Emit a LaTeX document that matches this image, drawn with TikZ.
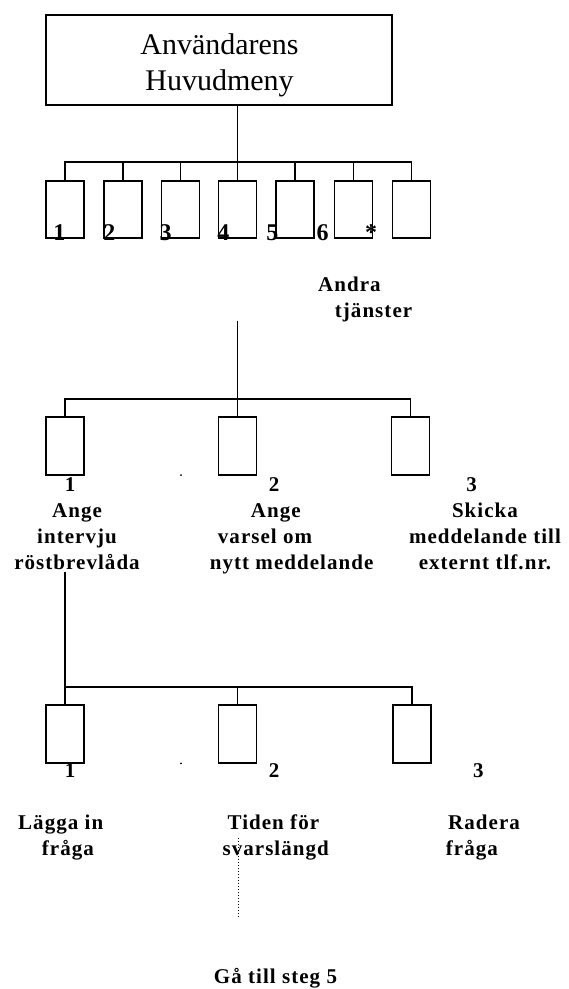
\documentclass[tikz,border=0pt]{standalone}
\usepackage{fontspec}
\setmainfont{Liberation Serif}
\newfontfamily\lblfont[LetterSpace=5]{Liberation Serif}
\usetikzlibrary{positioning}
\tikzstyle{keybox}=[draw,line width=1.8pt,inner sep=0pt,minimum
width=38pt,minimum height=58pt]

\begin{document}
\begin{tikzpicture}[x=1pt,y=-1pt,line width=1.8pt]
    \tikzstyle{wire}=[line width=1.8pt]
    \tikzstyle{kname}=[anchor=base,inner sep=0pt,
    font=\fontsize{24}{28}\selectfont\bfseries]
    \tikzstyle{sname}=[anchor=base,inner sep=0pt,
    font=\lblfont\fontsize{21}{26}\selectfont\bfseries]
    \tikzstyle{aname}=[sname,align=center]
    \tikzstyle{lname}=[sname,anchor=base west,align=left]
    \tikzstyle{dotmark}=[circle,fill,inner sep=0pt,minimum size=2pt]

    \useasboundingbox (0,0) rectangle (569,989);

    \node[draw,line width=1.8pt,minimum width=346pt,minimum
    height=90pt] at (219.2,59.9) (menu) {};
    \node[anchor=base,inner sep=0pt,align=center,
    font=\fontsize{30}{36.7}\selectfont] at (219.5,90.7)
    (menutxt) {Användarens\\Huvudmeny};

    \foreach \n/\x in {1/65,2/123.3,3/180.5,4/237.5,5/295,6/353.5,7/411.5}
    \node[keybox,minimum height=57pt] at (\x,209.5) (k\n) {};
    \coordinate (topbus) at (237.5,162);
    \draw[wire] (k4 |- menu.south) -- (k4.north);
    \draw[wire] (k1.north) |- (topbus) -| (k7.north);
    \foreach \n in {2,3,5,6}
    \draw[wire] (k\n.north) -- (k\n.north |- topbus);

    \foreach \n/\x in {1/59.3,2/109.3,3/165.7,4/223.3,5/272.3,6/322.7}
    \node[kname] at (\x,240.7) (kn\n) {\n};
    \node[kname] at (371,240.7) (knstar) {*};

    \node[lname] at (317.3,317.7) (other) {Andra\\\hspace*{16.7pt}tjänster};

    \node[keybox] at (65.2,445.9) (s1) {};
    \node[keybox] at (237.5,445.9) (s2) {};
    \node[keybox] at (410.5,445.9) (s3) {};
    \coordinate (midtop) at (237.5,320.7);
    \coordinate (midbus) at (237.5,399);
    \draw[wire] (midtop) -- (s2.north);
    \draw[wire] (s1.north) |- (midbus) -| (s3.north);
    \node[dotmark] at (181,475) (dot1) {};

    \node[sname] at (70,491) (sn1) {1};
    \node[sname] at (274,491) (sn2) {2};
    \node[sname] at (471.7,491) (sn3) {3};
    \node[aname] at (77,569.3) (s1txt) {Ange\\intervju\\röstbrevlåda};
    \node[lname] at (209,569.3)
    (s2txt) {\hspace*{41pt}Ange\\\hspace*{8pt}varsel om\\nytt meddelande};
    \node[aname] at (485,569.3)
    (s3txt) {Skicka\\meddelande till\\externt tlf.nr.};

    \node[keybox] at (65.2,734.2) (q1) {};
    \node[keybox] at (237.5,734.2) (q2) {};
    \node[keybox] at (411.7,734.2) (q3) {};
    \coordinate (lowtop) at (65.2,571.7);
    \coordinate (lowbus) at (65.2,687.3);
    \draw[wire] (lowtop) -- (q1.north);
    \draw[wire] (lowbus) -| (q3.north);
    \draw[wire] (q2.north) -- (q2.north |- lowbus);
    \node[dotmark] at (181,763.3) (dot2) {};

    \node[sname] at (70,777.3) (qn1) {1};
    \node[sname] at (274,777.3) (qn2) {2};
    \node[sname] at (478.3,777.3) (qn3) {3};
    \node[lname] at (17.3,855.3) (q1txt) {Lägga in\\\hspace*{23.7pt}fråga};
    \node[lname] at (221.7,855.3) (q2txt) {\hspace*{5pt}Tiden för\\svarslängd};
    \node[lname] at (445,855.3) (q3txt) {\hspace*{2.3pt}Radera\\fråga};

    \coordinate (gotop) at (238.3,838.3);
    \coordinate (gobot) at (238.3,916.7);
    \draw[line width=1pt,dotted] (gotop) -- (gobot);
    \node[aname] at (275.5,983.3) (goto) {Gå till steg 5};
  \end{tikzpicture}
\end{document}
